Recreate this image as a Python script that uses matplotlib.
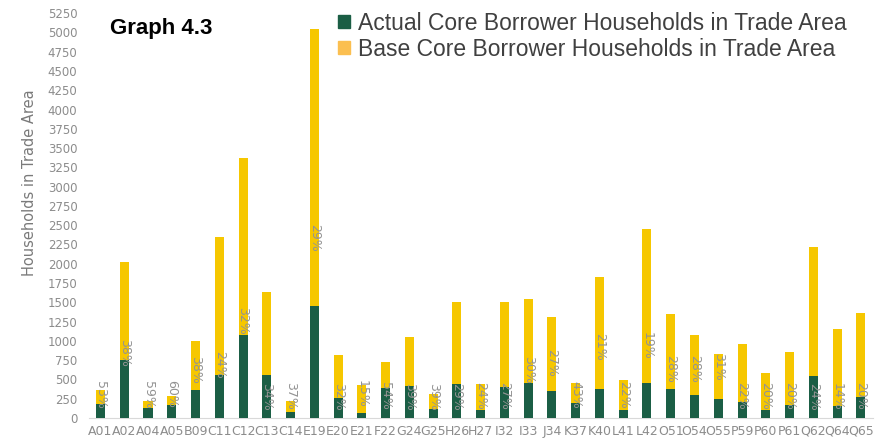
import numpy as np
import matplotlib
matplotlib.use('Agg')
import matplotlib.pyplot as plt
from matplotlib.patches import Patch

#%% data
branches = ['A01', 'A02', 'A04', 'A05', 'B09', 'C11', 'C12', 'C13', 'C14', 'E19',
            'E20', 'E21', 'F22', 'G24', 'G25', 'H26', 'H27', 'I32', 'I33', 'J34',
            'K37', 'K40', 'L41', 'L42', 'O51', 'O54', 'O55', 'P59', 'P60', 'P61',
            'Q62', 'Q64', 'Q65']
base_households = [358, 2020, 216, 280, 993, 2353, 3370, 1636, 216, 5040,
                   812, 430, 725, 1049, 311, 1507, 445, 1498, 1537, 1312,
                   452, 1826, 488, 2456, 1343, 1079, 825, 954, 583, 850,
                   2223, 1153, 1360]
actual_households = [186, 755, 130, 164, 367, 553, 1075, 561, 78, 1455,
                     259, 65, 391, 410, 117, 445, 107, 397, 453, 354,
                     194, 376, 108, 453, 376, 294, 250, 207, 108, 164,
                     540, 151, 272]
pct_labels = ['53%', '38%', '59%', '60%', '38%', '24%', '32%', '34%', '37%', '29%',
              '32%', '15%', '54%', '39%', '39%', '29%', '24%', '27%', '30%', '27%',
              '43%', '21%', '22%', '19%', '28%', '28%', '31%', '22%', '20%', '20%',
              '24%', '14%', '20%']
# height (households) where each percent label sits in the original
pct_label_at = [302, 842, 302, 306, 626, 690, 1260, 280, 280, 2340,
                280, 315, 280, 280, 280, 280, 290, 280, 626, 712,
                300, 928, 300, 940, 639, 639, 660, 285, 290, 280,
                280, 280, 280]

#%% plot
green = '#1b5e45'
yellow = '#f6c700'
grey_txt = '#8c8c8c'

fig = plt.figure(figsize=(8.86, 4.38), dpi=100)
ax = fig.add_axes([0.100, 0.0457, 0.885, 0.9243])

x = np.arange(len(branches))
ax.bar(x, base_households, width=0.38, color=yellow, zorder=2)
ax.bar(x, actual_households, width=0.38, color=green, zorder=3)

for xi, lab, yl in zip(x, pct_labels, pct_label_at):
    ax.text(xi, yl, lab, rotation=270, ha='center', va='center',
            fontsize=9, color='#939393', zorder=4, family='DejaVu Sans')

ax.set_xlim(-0.5, len(branches) - 0.5)
ax.set_ylim(0, 5250)
ax.set_yticks(np.arange(0, 5251, 250))
ax.set_xticks(x)
ax.set_xticklabels(branches)
ax.tick_params(axis='both', length=0, colors=grey_txt, labelsize=8.5)
ax.tick_params(axis='x', pad=5, labelsize=9)
ax.tick_params(axis='y', pad=8)
for s in ['top', 'right', 'left']:
    ax.spines[s].set_visible(False)
ax.spines['bottom'].set_color('#d9d9d9')

ax.set_ylabel('Households in Trade Area', fontsize=10.5, color='#7a7a7a')
ax.yaxis.set_label_coords(-0.066, 0.58)

fig.text(0.124, 0.936, 'Graph 4.3', fontsize=16, fontweight='bold',
         family='Liberation Sans', color='black', va='center')

handles = [Patch(color=green), Patch(color='#fbbf50')]
fig.legend(handles, ['Actual Core Borrower Households in Trade Area',
                     'Base Core Borrower Households in Trade Area'],
           loc='upper left', bbox_to_anchor=(0.382, 0.973), frameon=False,
           prop={'family': 'Liberation Sans', 'size': 16.5},
           labelcolor='#404040', handlelength=0.5, handleheight=0.5,
           handletextpad=0.35, labelspacing=0.12, borderpad=0,
           borderaxespad=0)

fig.savefig('out.png', dpi=100)
